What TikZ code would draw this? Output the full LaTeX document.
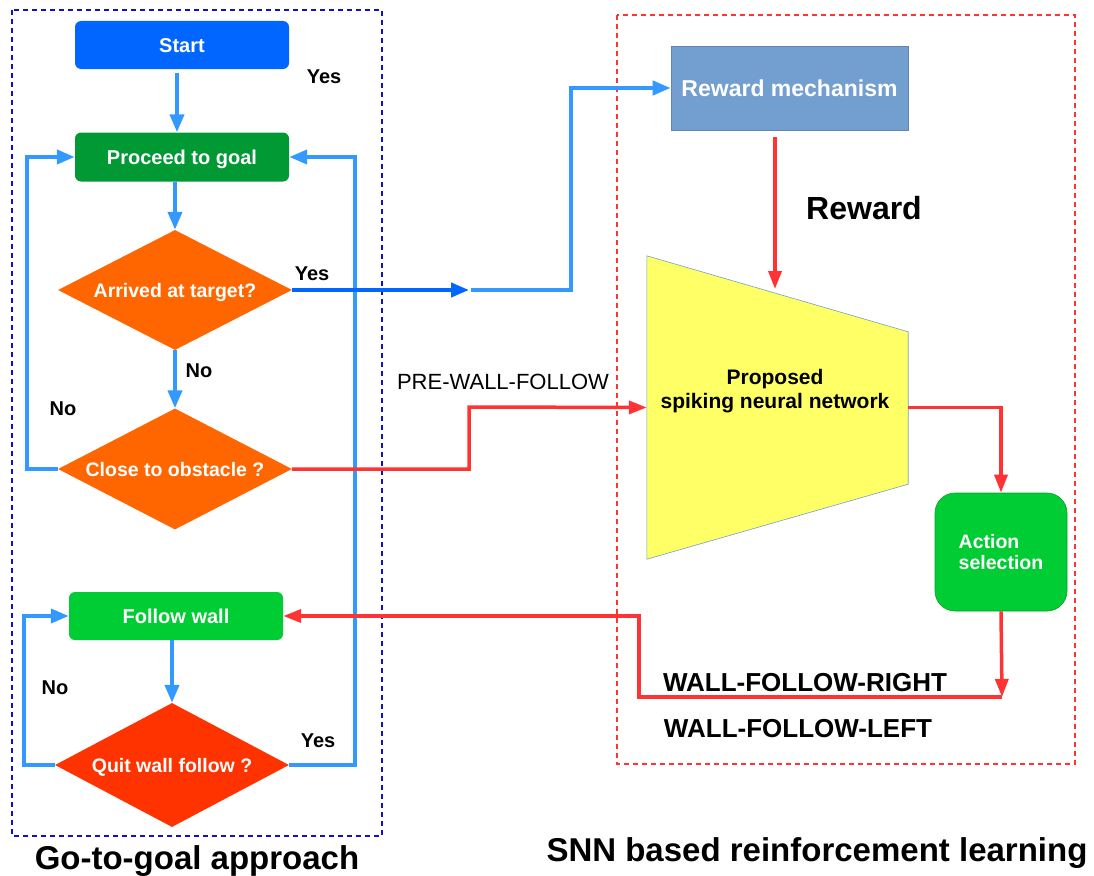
\documentclass[tikz,border=0pt]{standalone}
\usepackage{fontspec}
\setmainfont{Liberation Sans}
\usetikzlibrary{arrows.meta,shapes.geometric,positioning}

\definecolor{startblue}{RGB}{0,102,255}
\definecolor{goalgreen}{RGB}{0,153,51}
\definecolor{askorange}{RGB}{255,102,0}
\definecolor{quitred}{RGB}{255,51,0}
\definecolor{wallgreen}{RGB}{0,204,51}
\definecolor{rewardblue}{RGB}{114,159,207}
\definecolor{snnyellow}{RGB}{255,255,102}
\definecolor{flowblue}{RGB}{51,153,255}
\definecolor{flowred}{RGB}{255,51,51}
\definecolor{frameblue}{RGB}{17,17,204}

\newcommand{\fs}[1]{\fontsize{#1}{#1}\selectfont}

\tikzset{
  procbox/.style={rectangle, rounded corners=6pt, minimum width=214pt, minimum height=48pt,
    inner sep=0pt, text=white, font=\fs{20}\bfseries, text height=14.4pt, text depth=0pt},
  askbox/.style={diamond, inner sep=0pt, aspect=2, minimum width=234pt, minimum height=120pt,
    text=white, font=\fs{19.5}\bfseries, text height=14pt, text depth=0pt},
  bluearrow/.style={draw=flowblue, line width=4pt, -{Triangle[length=18pt,width=14pt]}},
  redarrow/.style={draw=flowred, line width=3.5pt, -{Triangle[length=18pt,width=13pt]}},
  lbl/.style={anchor=base, font=\fs{20}\bfseries, text=black, inner sep=0pt},
  cmd/.style={anchor=base, font=\fs{22}, text=black, inner sep=0pt},
  title/.style={anchor=base, font=\fs{33}\bfseries, text=black, inner sep=0pt},
  frame/.style={line width=1.8pt, dash pattern=on 5pt off 4pt},
}

\begin{document}
\begin{tikzpicture}[x=1pt, y=-1pt]
\useasboundingbox (0,0) rectangle (1094,875);

% group frames
\draw[frame, frameblue] (12,10) rectangle (382,836);
\draw[frame, flowred, line width=1.3pt] (617,15) rectangle (1075,764);

% go-to-goal flowchart
\node[procbox, fill=startblue] (start) at (182,45) {Start};
\node[procbox, fill=goalgreen, minimum height=49pt] (goal) at (182,157) {Proceed to goal};
\node[askbox, fill=askorange] (arrived) at (175,290) {Arrived at target?};
\node[askbox, fill=askorange, minimum height=121pt] (close) at (175,469) {Close to obstacle ?};
\node[procbox, fill=wallgreen] (follow) at (176,616) {Follow wall};
\node[askbox, fill=quitred, minimum height=124pt] (quit) at (172,765) {Quit wall follow ?};

% learning part
\node[rectangle, fill=rewardblue, draw=rewardblue!85!black, line width=0.6pt,
      minimum width=237pt, minimum height=84pt, inner sep=0pt,
      text=white, font=\fs{23}\bfseries, text height=16.5pt, text depth=0pt] (reward) at (789.5,88) {Reward mechanism};
\node[rectangle, minimum width=261pt, minimum height=303pt, inner sep=0pt] (snn) at (777.5,407.5) {};
\path[fill=snnyellow, draw=rewardblue, line width=0.6pt]
  (snn.north west) -- ([yshift=-76pt]snn.north east) -- ([yshift=75pt]snn.south east)
  -- (snn.south west) -- cycle;
\node[align=center, font=\fs{21}\bfseries, text=black, inner sep=0pt] (snntext) at (775,391)
  {Proposed\\[3pt]spiking neural network};
\node[rectangle, rounded corners=20pt, fill=wallgreen, draw=wallgreen!80!black, line width=0.6pt,
      minimum width=132pt, minimum height=118pt, inner sep=0pt,
      text=white, font=\fs{19.5}\bfseries, align=left] (act) at (1001,552) {Action\\[2pt]selection};

% route corners
\coordinate (hop) at (469,290);
\coordinate (up) at (571,290);
\coordinate (pw) at (469,407);
\coordinate (rin) at (775,289);
\coordinate (wf) at (1002,697);
\coordinate (wfl) at (639,697);
\coordinate (noA) at (27,469);
\coordinate (noB) at (24,765);
\coordinate (yesB) at (355,765);

% flowchart arrows
\draw[bluearrow] ([xshift=-5pt,yshift=-4pt]start.south) -- ([xshift=-5pt]goal.north);
\draw[bluearrow] (goal.south -| arrived.north) -- (arrived.north);
\draw[bluearrow] (arrived.south) -- (close.north);
\draw[bluearrow] (follow.south -| quit.north) -- (quit.north);
\draw[bluearrow] (close.west) -- (noA) |- (goal.west);
\draw[bluearrow] (quit.west) -- (noB) |- (follow.west);
\draw[bluearrow] (quit.east) -- (yesB) |- (goal.east);

% to the reward mechanism
\draw[draw=startblue, line width=4pt, -{Triangle[length=18pt,width=14pt]}] (arrived.east) -- (hop);
\draw[bluearrow] ([xshift=2pt]hop) -- (up) |- (reward.west);

% learning arrows
\draw[redarrow] (close.east) -| (pw) -- (snn.west);
\draw[redarrow] ([yshift=-7pt]reward.south -| rin) -- (rin);
\draw[redarrow] (snn.east) -| (act.north);
\draw[redarrow] (act.south) -- (wf);
\draw[redarrow] (wf) -- (wfl) |- (follow.east);

% labels
\node[lbl] (y1) at (324,83) {Yes};
\node[lbl] (y2) at (312,280) {Yes};
\node[lbl] (n1) at (199,377) {No};
\node[lbl] (n2) at (63,415) {No};
\node[lbl] (n3) at (55,694) {No};
\node[lbl] (y3) at (318,747) {Yes};
\node[cmd] (pre) at (503,389) {PRE-WALL-FOLLOW};
\node[anchor=base, font=\fs{32}\bfseries, inner sep=0pt] (rw) at (864,219) {Reward};
\node[cmd, font=\fs{26}\bfseries] (wr) at (805,691) {WALL-FOLLOW-RIGHT};
\node[cmd, font=\fs{26}\bfseries] (wl) at (798,737) {WALL-FOLLOW-LEFT};
\node[title] (t1) at (197,869) {Go-to-goal approach};
\node[title] (t2) at (817,861) {SNN based reinforcement learning};
\end{tikzpicture}
\end{document}
